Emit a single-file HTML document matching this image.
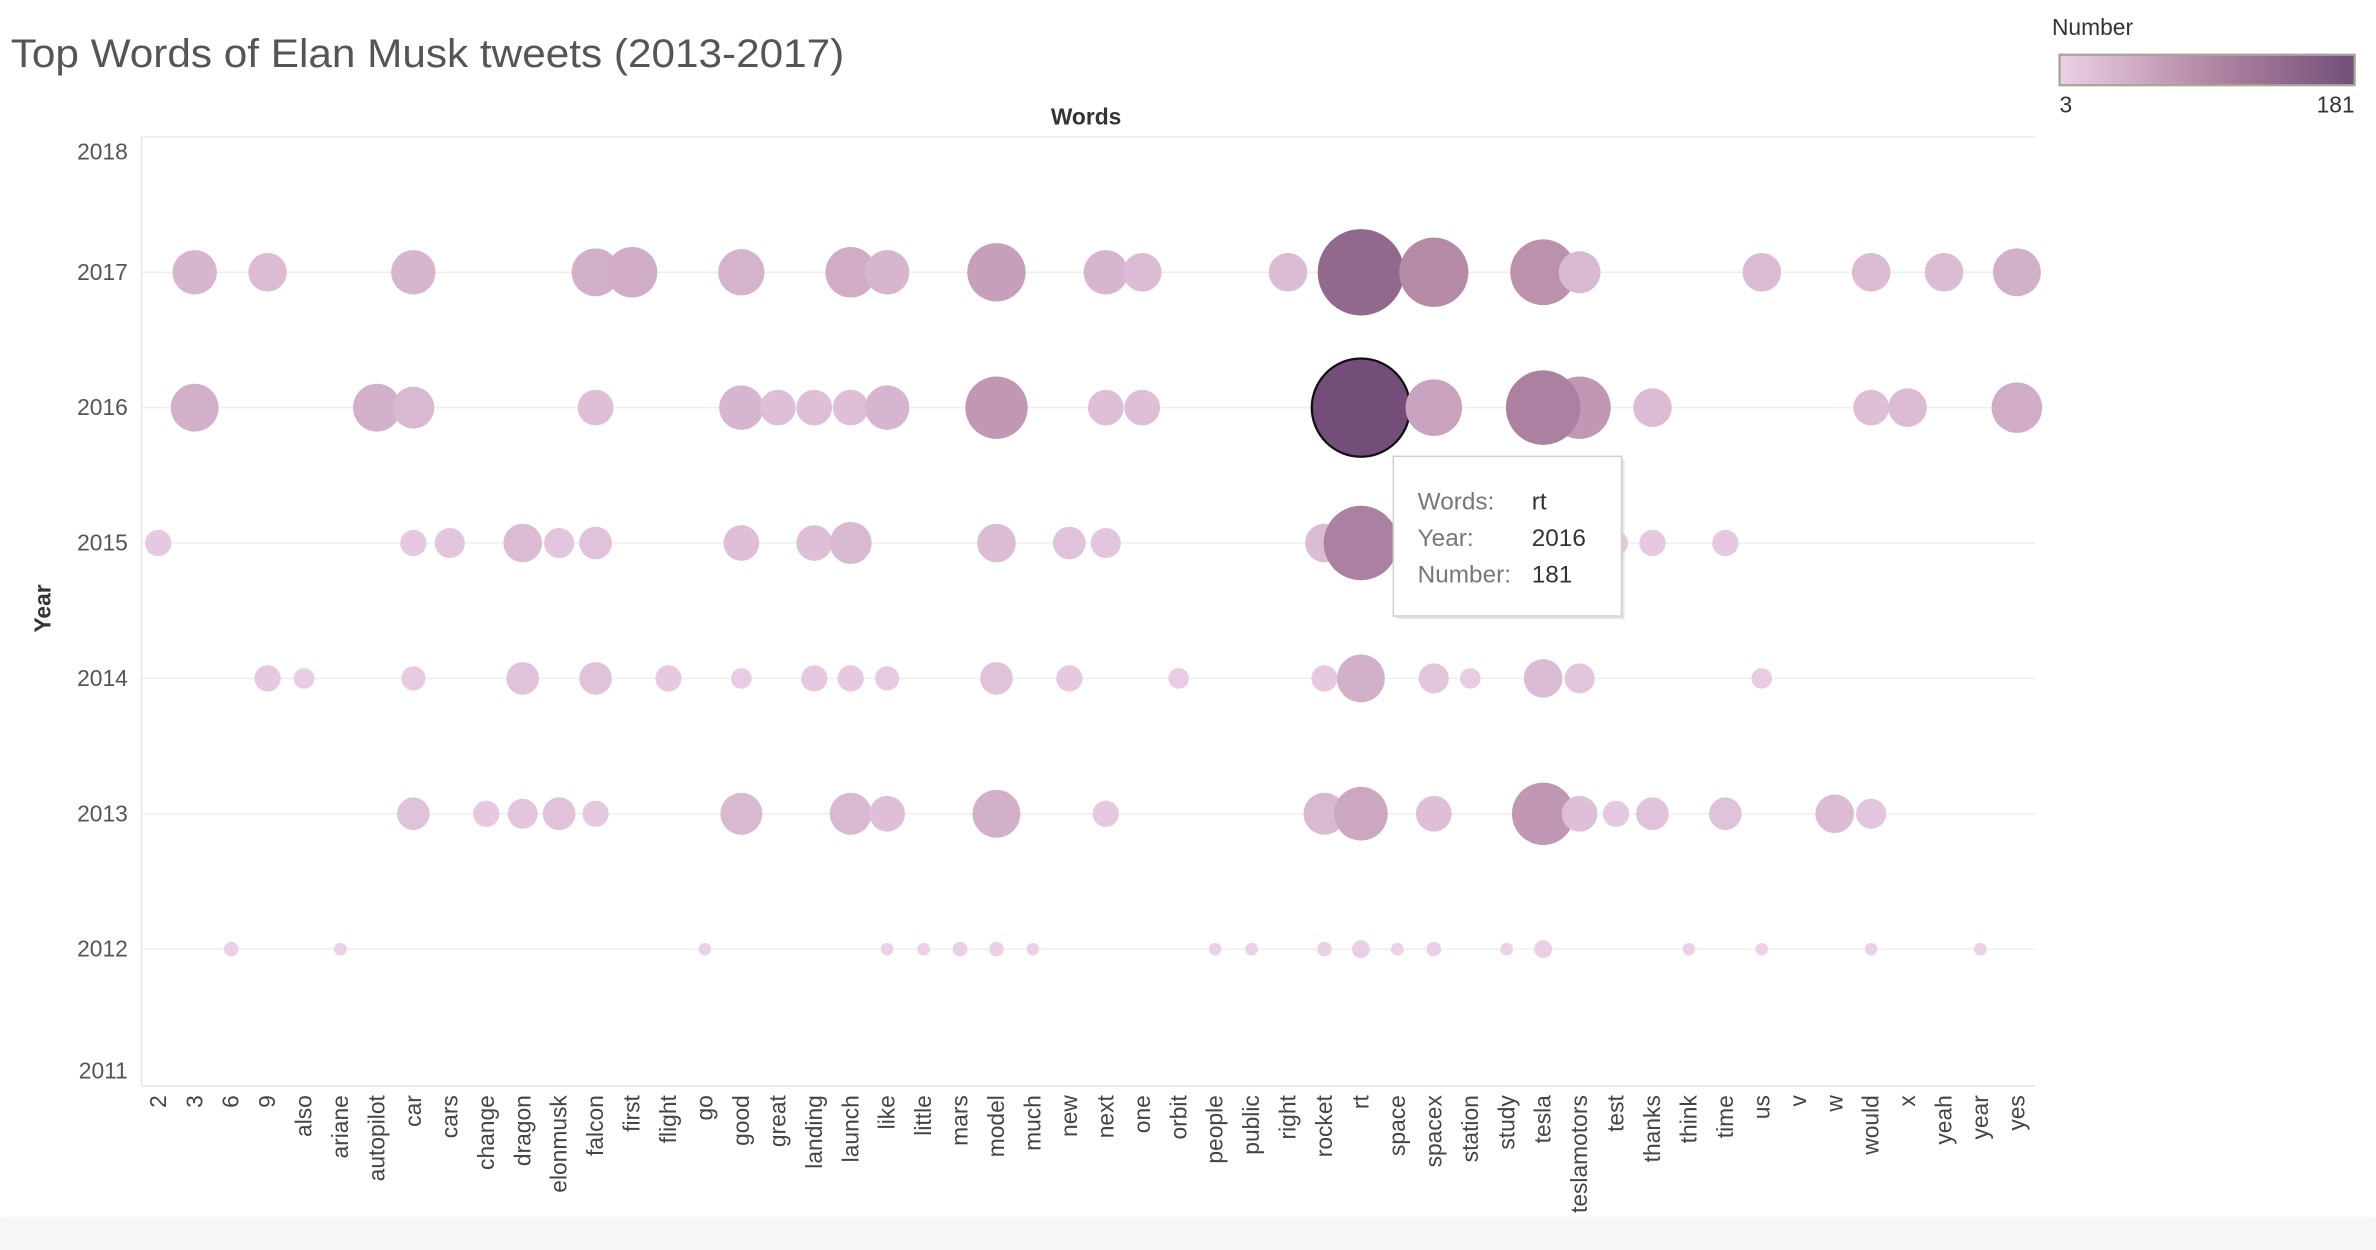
<!DOCTYPE html>
<html><head><meta charset="utf-8"><style>
html,body{margin:0;padding:0;background:#fff;}
svg{display:block;font-family:"Liberation Sans",sans-serif;}
</style></head><body>
<svg id="chart" width="2376" height="1250" viewBox="0 0 1562 821.8" xmlns="http://www.w3.org/2000/svg">
<rect x="0" y="0" width="1562" height="821.8" fill="#fff"/>
<rect x="0" y="800" width="1562" height="22" fill="#f7f7f7"/>
<text x="7" y="44" font-size="26" fill="#555" textLength="548" lengthAdjust="spacingAndGlyphs">Top Words of Elan Musk tweets (2013-2017)</text>
<g>
<text x="1349" y="23" font-size="15" fill="#333">Number</text>
<defs><linearGradient id="lg" x1="0" x2="1"><stop offset="0" stop-color="#ecd0e8"/><stop offset="0.5" stop-color="#b488a6"/><stop offset="1" stop-color="#724e78"/></linearGradient></defs>
<rect x="1354" y="36" width="194" height="20" fill="url(#lg)" stroke="#a8a498" stroke-width="1.5"/>
<text x="1354" y="74" font-size="15" fill="#333">3</text>
<text x="1548" y="74" font-size="15" fill="#333" text-anchor="end">181</text>
</g>
<text x="714" y="82" font-size="15" font-weight="bold" fill="#333" text-anchor="middle">Words</text>
<text transform="translate(33,400) rotate(-90)" font-size="15" font-weight="bold" fill="#333" text-anchor="middle">Year</text>
<line x1="93" y1="90" x2="1338" y2="90" stroke="#eee"/>
<line x1="93" y1="90" x2="93" y2="714" stroke="#e6e6e6"/>
<line x1="93" y1="714" x2="1338" y2="714" stroke="#e6e6e6"/>
<g id="grid"></g><g id="yticks"></g><g id="xticks"></g><g id="marks"></g>
<g>
<rect x="918" y="302" width="150" height="105" fill="#ccc" opacity="0.5"/>
<rect x="916" y="300" width="150" height="105" fill="#fff" stroke="#d0d0d0"/>
<text x="932" y="335" font-size="16" fill="#777">Words:</text><text x="1007" y="335" font-size="16" fill="#333">rt</text>
<text x="932" y="359" font-size="16" fill="#777">Year:</text><text x="1007" y="359" font-size="16" fill="#333">2016</text>
<text x="932" y="383" font-size="16" fill="#777">Number:</text><text x="1007" y="383" font-size="16" fill="#333">181</text>
</g>
</svg>
<script>
const words=["2","3","6","9","also","ariane","autopilot","car","cars","change","dragon","elonmusk","falcon","first","flight","go","good","great","landing","launch","like","little","mars","model","much","new","next","one","orbit","people","public","right","rocket","rt","space","spacex","station","study","tesla","teslamotors","test","thanks","think","time","us","v","w","would","x","yeah","year","yes"];
const yearTicks=[2011,2012,2013,2014,2015,2016,2017,2018];
const pointWords=[
"3","9","car","falcon","first","good","launch","like","model","next","one","right","rt","spacex","tesla","teslamotors","us","would","yeah","yes",
"3","autopilot","car","falcon","good","great","landing","launch","like","model","next","one","rt","spacex","teslamotors","tesla","thanks","would","x","yes",
"2","car","cars","dragon","elonmusk","falcon","good","landing","launch","model","new","next","rocket","rt","test","thanks","time",
"9","also","car","dragon","falcon","flight","good","landing","launch","like","model","new","orbit","rocket","rt","spacex","station","tesla","teslamotors","us",
"car","change","dragon","elonmusk","falcon","good","launch","like","model","next","rocket","rt","spacex","tesla","teslamotors","test","thanks","time","w","would",
"6","ariane","go","like","little","mars","model","much","people","public","rocket","rt","space","spacex","study","tesla","think","us","would","year"];
const pointYears=[
2017,2017,2017,2017,2017,2017,2017,2017,2017,2017,2017,2017,2017,2017,2017,2017,2017,2017,2017,2017,
2016,2016,2016,2016,2016,2016,2016,2016,2016,2016,2016,2016,2016,2016,2016,2016,2016,2016,2016,2016,
2015,2015,2015,2015,2015,2015,2015,2015,2015,2015,2015,2015,2015,2015,2015,2015,2015,
2014,2014,2014,2014,2014,2014,2014,2014,2014,2014,2014,2014,2014,2014,2014,2014,2014,2014,2014,2014,
2013,2013,2013,2013,2013,2013,2013,2013,2013,2013,2013,2013,2013,2013,2013,2013,2013,2013,2013,2013,
2012,2012,2012,2012,2012,2012,2012,2012,2012,2012,2012,2012,2012,2012,2012,2012,2012,2012,2012,2012];
const pointValues=[
37,28,37,43,48,40,48,37,64,37,28,28,140,90,81,33,28,28,28,43,
43,43,33,24,37,24,24,24,37,73,24,24,181,60,73,104,28,24,28,48,
13,13,17,28,17,20,24,24,33,28,20,17,28,104,11,13,13,
13,8,11,20,20,13,8,13,13,11,20,13,8,13,43,17,8,28,17,8,
20,13,17,20,13,33,33,24,43,13,33,54,24,73,24,13,20,20,28,17,
4,3,3,3,3,4,4,3,3,3,4,6,3,4,3,6,3,3,3,3];
const NS="http://www.w3.org/2000/svg";
const x0=93,x1=1338,y0=90,y1=714;
const xScale=w=>x0+11+words.indexOf(w)*23.96;
const yScale=y=>179+(2017-y)*89;
const rScale=v=>2.4*Math.sqrt(v);
function lerp(a,b,t){return a.map((c,i)=>Math.round(c+(b[i]-c)*t));}
function color(v){const t=(v-3)/178;const c0=[236,208,232],c1=[180,136,166],c2=[114,78,120];
const c=t<0.5?lerp(c0,c1,t*2):lerp(c1,c2,(t-0.5)*2);return `rgb(${c[0]},${c[1]},${c[2]})`;}
const grid=document.getElementById('grid'),yt=document.getElementById('yticks'),xt=document.getElementById('xticks'),marks=document.getElementById('marks');
yearTicks.forEach(y=>{
 const yy=yScale(y);
 if(y>2011&&y<2018){const l=document.createElementNS(NS,'line');
 l.setAttribute('x1',x0);l.setAttribute('x2',x1);l.setAttribute('y1',yy);l.setAttribute('y2',yy);l.setAttribute('stroke','#eee');
 
 
 grid.appendChild(l);}
 const t=document.createElementNS(NS,'text');
 const ly=Math.min(Math.max(yy,100),704);
 t.setAttribute('x',84);t.setAttribute('y',ly+5);t.setAttribute('text-anchor','end');t.setAttribute('font-size','15');t.setAttribute('fill','#555');
 t.textContent=y;
 
 
 yt.appendChild(t);
});
words.forEach(w=>{
 const t=document.createElementNS(NS,'text');const xx=xScale(w);
 t.setAttribute('transform',`translate(${xx+5},720) rotate(-90)`);t.setAttribute('text-anchor','end');t.setAttribute('font-size','15');t.setAttribute('fill','#444');
 t.textContent=w;
 
 
 xt.appendChild(t);
});
pointWords.forEach((w,i)=>{
 const c=document.createElementNS(NS,'circle');const v=pointValues[i];
 c.setAttribute('cx',xScale(w));c.setAttribute('cy',yScale(pointYears[i]));c.setAttribute('r',rScale(v));c.setAttribute('fill',color(v));
 if(v===181){c.setAttribute('stroke','#111');c.setAttribute('stroke-width','1.5');}
 
 
 marks.appendChild(c);
});
</script>
</body></html>
